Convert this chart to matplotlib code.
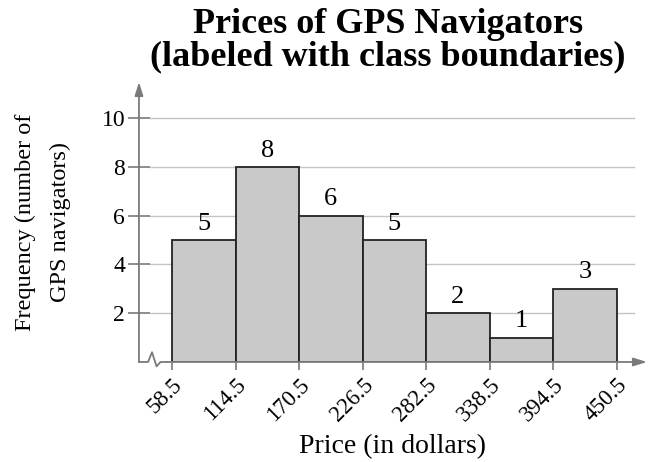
#!/usr/bin/env python3
"""Chart: Prices of GPS navigators, histogram labeled with class boundaries."""

import matplotlib
matplotlib.use("Agg")
import matplotlib.pyplot as plt

# Data
boundaries = [58.5, 114.5, 170.5, 226.5, 282.5, 338.5, 394.5, 450.5]
frequencies = [5, 8, 6, 5, 2, 1, 3]
y_ticks = [2, 4, 6, 8, 10]

plt.rcParams["font.family"] = ["Liberation Serif", "DejaVu Serif"]

axis_color = "#7a7a7a"
bar_color = "#c9c9c9"

fig = plt.figure(figsize=(6.5, 4.62), dpi=100)
ax = fig.add_axes([0.2138, 0.2165, 0.7815, 0.606])

x_min, x_max = 29.4, 477.0
y_max = 11.48
ax.set_xlim(x_min, x_max)
ax.set_ylim(0, y_max)

# Bars
lefts = boundaries[:-1]
widths = [b - a for a, b in zip(boundaries[:-1], boundaries[1:])]
ax.bar(lefts, frequencies, width=widths, align="edge", color=bar_color,
       edgecolor="#222222", linewidth=1.3, zorder=3)
for x, w, f in zip(lefts, widths, frequencies):
    ax.text(x + w / 2, f + 0.22, str(f), ha="center", va="bottom", fontsize=19, zorder=4)

# Grid lines
for y in y_ticks:
    ax.plot([x_min + 10, x_max - 11], [y, y], color="#c4c4c4", linewidth=1.0, zorder=1)

# Axes: hide spines, draw arrows
for s in ax.spines.values():
    s.set_visible(False)

ax.annotate("", xy=(x_min, y_max), xytext=(x_min, 0), xycoords="data",
            arrowprops=dict(arrowstyle="-|>,head_length=0.8,head_width=0.25",
                            color=axis_color, lw=1.3, shrinkA=0, shrinkB=0),
            annotation_clip=False)
ax.annotate("", xy=(x_max, 0), xytext=(boundaries[0], 0), xycoords="data",
            arrowprops=dict(arrowstyle="-|>,head_length=0.8,head_width=0.25",
                            color=axis_color, lw=1.3, shrinkA=0, shrinkB=0),
            annotation_clip=False)
# axis break zigzag
zx = [x_min, x_min + 8, x_min + 11.5, x_min + 15.5, x_min + 19, boundaries[0]]
zy = [0, 0, 0.4, -0.18, 0, 0]
ax.plot(zx, zy, color=axis_color, linewidth=1.3, clip_on=False, zorder=5)

# Ticks
ax.set_yticks(y_ticks)
ax.set_yticklabels([str(t) for t in y_ticks], fontsize=17)
ax.set_xticks(boundaries)
ax.set_xticklabels([f"{b:.1f}" for b in boundaries], fontsize=16.5,
                   rotation=45, ha="right", rotation_mode="anchor")
ax.tick_params(axis="y", direction="inout", length=16, width=1.2, color=axis_color, pad=2)
ax.tick_params(axis="x", direction="out", length=6, width=1.2, color=axis_color, pad=3)

ax.set_xlabel("Price (in dollars)", fontsize=20, labelpad=6)
ax.set_ylabel("Frequency (number of\nGPS navigators)", fontsize=17.5, labelpad=22,
              linespacing=1.85)

fig.text(0.597, 0.982, "Prices of GPS Navigators\n(labeled with class boundaries)",
         ha="center", va="top", fontsize=26, fontweight="bold", linespacing=0.95)

plt.savefig("out.png", dpi=100)
